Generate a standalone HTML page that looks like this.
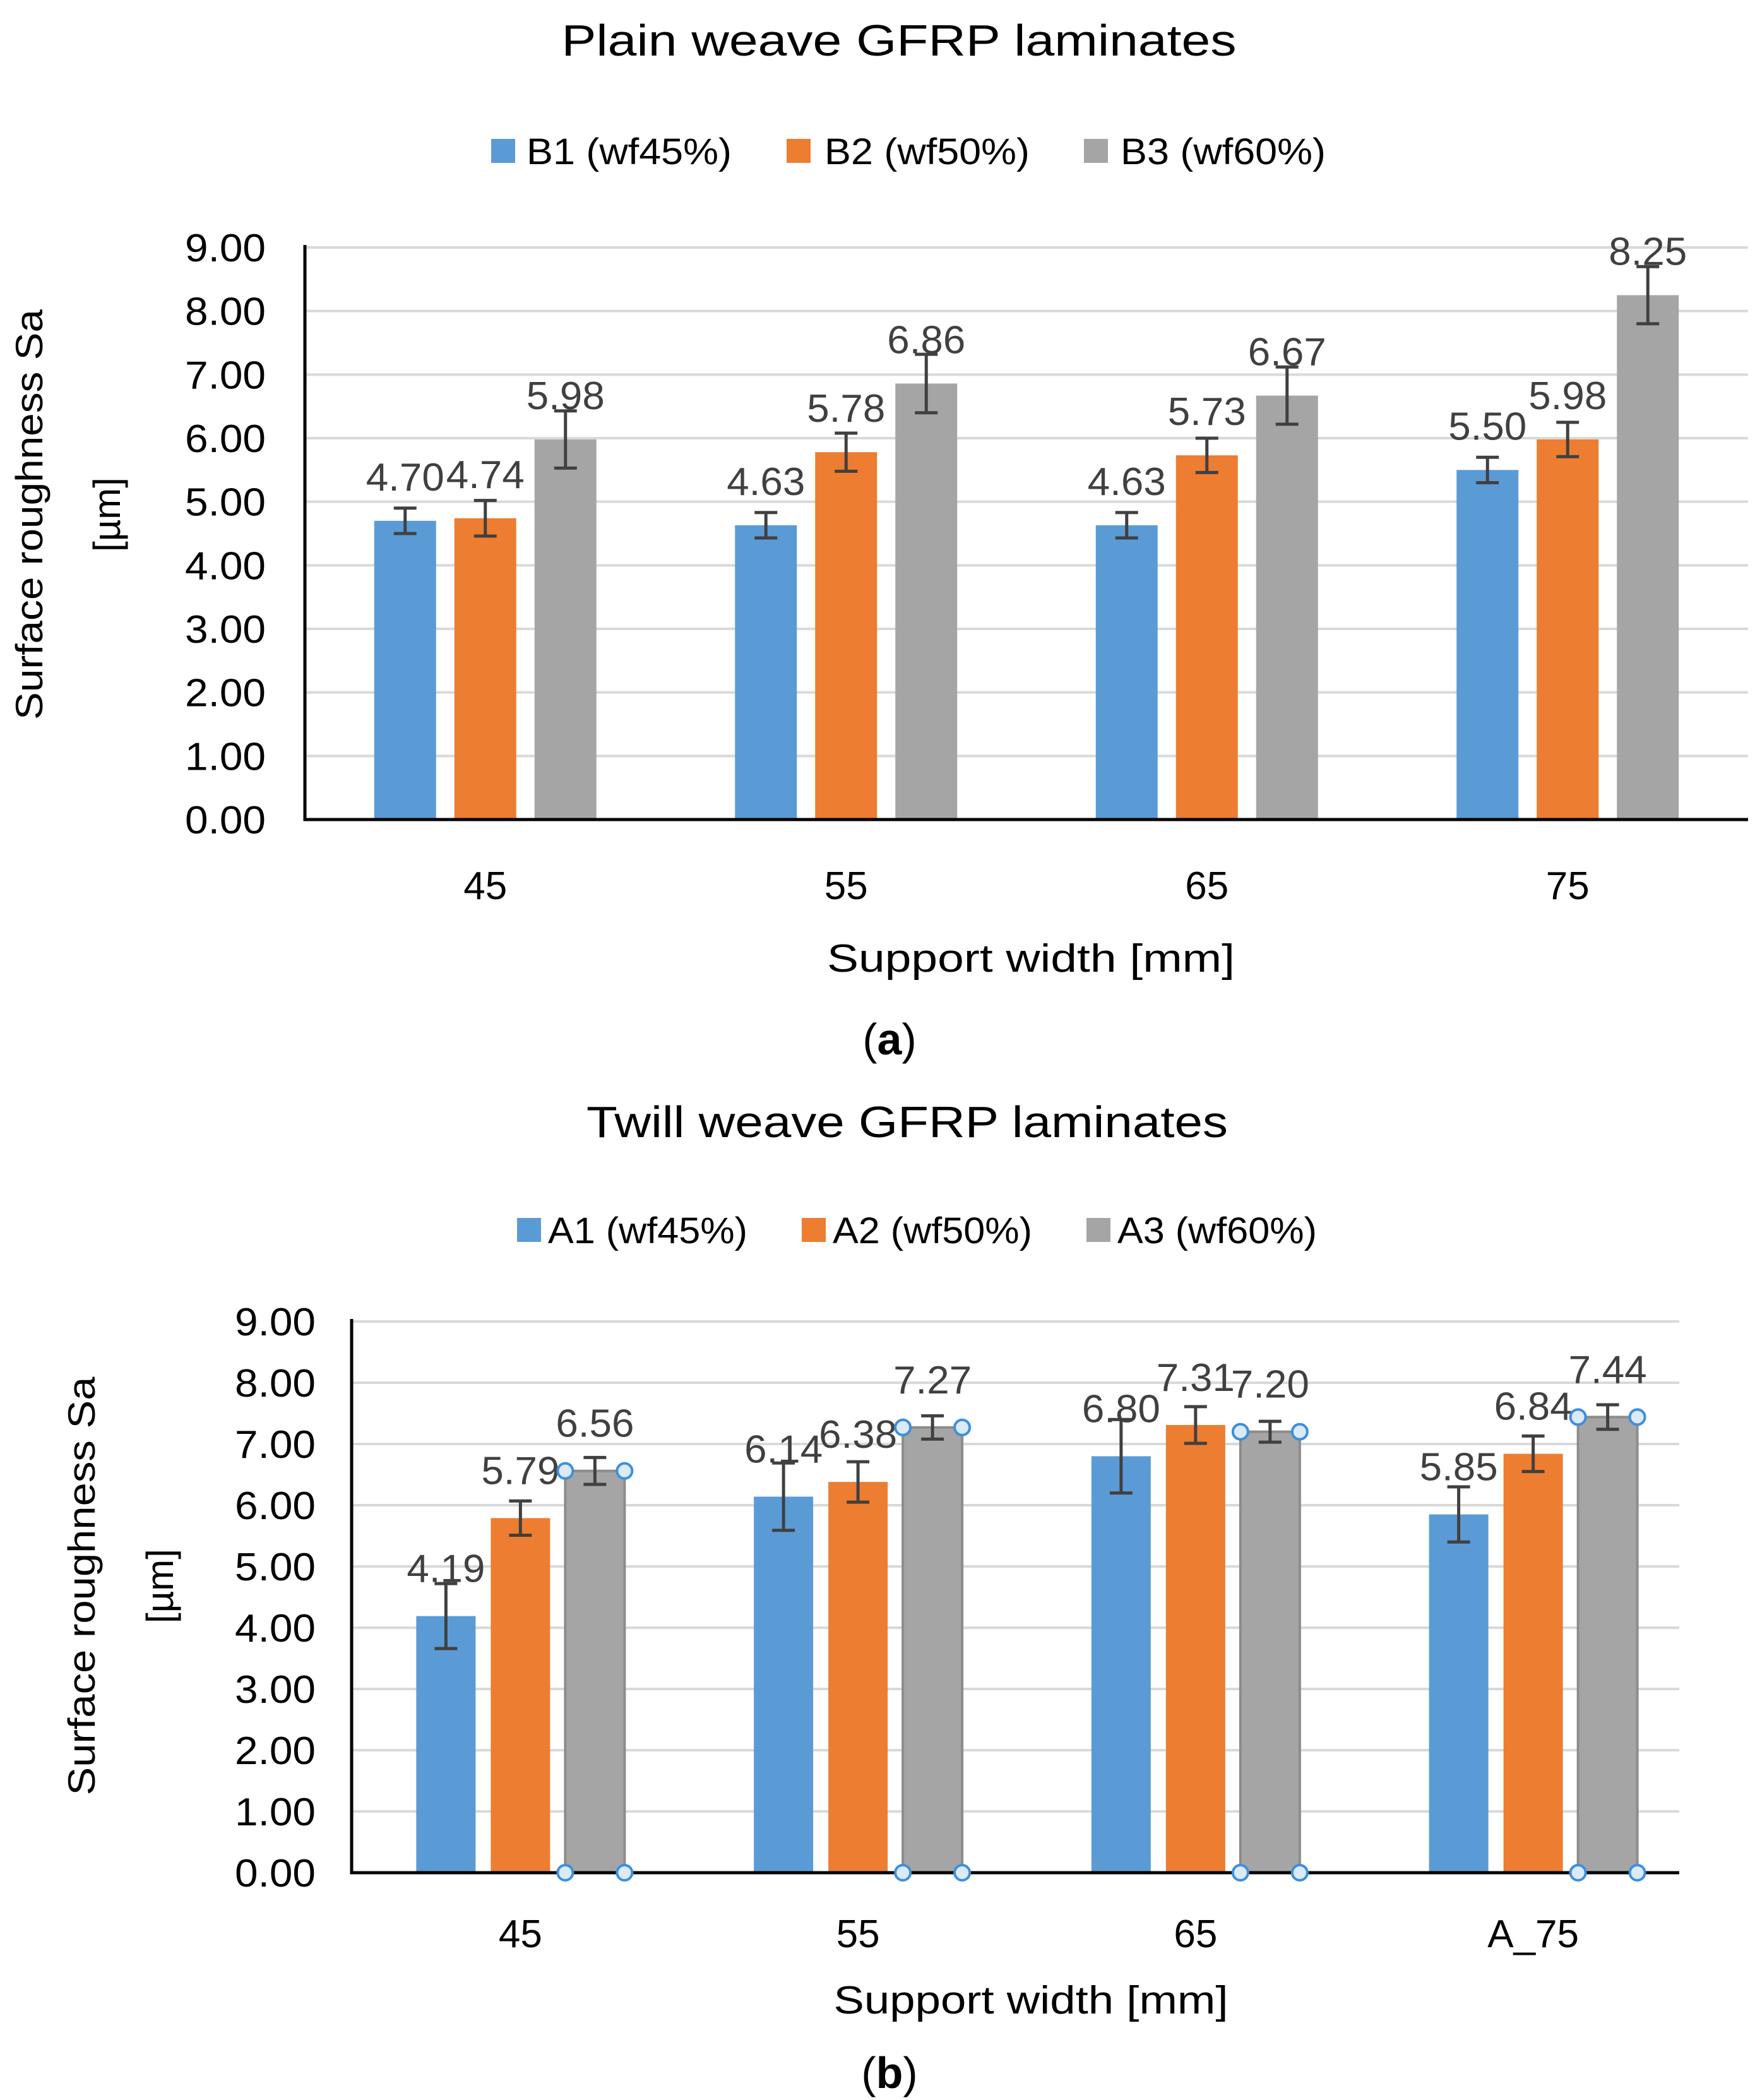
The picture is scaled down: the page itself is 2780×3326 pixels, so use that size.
<!DOCTYPE html>
<html><head><meta charset="utf-8"><style>
html,body{margin:0;padding:0;background:#fff;}
svg{display:block;}
text{font-family:"Liberation Sans",sans-serif;}
</style></head><body>
<svg id="fig" width="2780" height="3326" viewBox="0 0 2780 3326" xmlns="http://www.w3.org/2000/svg">
<rect width="2780" height="3326" fill="#fff"/>
<g id="chartA"></g>
<g id="chartB"></g>
</svg>
<script>
const categoriesA = ["45","55","65","75"];
const seriesNamesA = ["B1 (wf45%)","B2 (wf50%)","B3 (wf60%)"];
const valuesA_B1 = [4.70,4.63,4.63,5.50];
const valuesA_B2 = [4.74,5.78,5.73,5.98];
const valuesA_B3 = [5.98,6.86,6.67,8.25];
const errA_B1 = [0.20,0.20,0.20,0.20];
const errA_B2 = [0.28,0.30,0.27,0.27];
const errA_B3 = [0.45,0.46,0.45,0.45];
const labelsA_B1 = ["4.70","4.63","4.63","5.50"];
const labelsA_B2 = ["4.74","5.78","5.73","5.98"];
const labelsA_B3 = ["5.98","6.86","6.67","8.25"];

const categoriesB = ["45","55","65","A_75"];
const seriesNamesB = ["A1 (wf45%)","A2 (wf50%)","A3 (wf60%)"];
const valuesB_A1 = [4.19,6.14,6.80,5.85];
const valuesB_A2 = [5.79,6.38,7.31,6.84];
const valuesB_A3 = [6.56,7.27,7.20,7.44];
const errB_A1 = [0.53,0.55,0.60,0.45];
const errB_A2 = [0.28,0.33,0.30,0.29];
const errB_A3 = [0.22,0.19,0.17,0.20];
const labelsB_A1 = ["4.19","6.14","6.80","5.85"];
const labelsB_A2 = ["5.79","6.38","7.31","6.84"];
const labelsB_A3 = ["6.56","7.27","7.20","7.44"];

const yTicks = [0,1,2,3,4,5,6,7,8,9];
const yTickLabels = ["0.00","1.00","2.00","3.00","4.00","5.00","6.00","7.00","8.00","9.00"];
const colors = ["#5b9bd5","#ed7d31","#a5a5a5"];
const NS = "http://www.w3.org/2000/svg";

function el(parent, tag, attrs, txt){
  const e = document.createElementNS(NS, tag);
  for (const k in attrs) e.setAttribute(k, attrs[k]);
  if (txt !== undefined) e.textContent = txt;
  parent.appendChild(e);
  return e;
}

function drawChart(g, cfg){
  const yScale = v => cfg.y0 - v * (cfg.y0 - cfg.y9) / 9;
  const catW = (cfg.xEnd - cfg.x0) / cfg.cats.length;
  const xCenter = i => cfg.x0 + catW * (i + 0.5);

  const title = el(g,"text",{x:cfg.titleX,y:cfg.titleY,"text-anchor":"middle","font-size":70,fill:"#000",textLength:cfg.titleLen,lengthAdjust:"spacingAndGlyphs"},cfg.title);
  
  

  cfg.series.forEach((s,k)=>{
    const lg = el(g,"g",{});
    
    
    el(lg,"rect",{x:cfg.legSq[k],y:cfg.legY-19,width:38,height:38,fill:colors[k]});
    el(lg,"text",{x:cfg.legTx[k],y:cfg.legY+21,"font-size":58,fill:"#000",textLength:cfg.legLen,lengthAdjust:"spacingAndGlyphs"},s);
  });

  yTicks.forEach((t,i)=>{
    const y = yScale(t);
    if (t>0){
      const gl = el(g,"line",{x1:cfg.x0,x2:cfg.gridEnd,y1:y,y2:y,stroke:"#d9d9d9","stroke-width":4});
      
      
    }
    const tl = el(g,"text",{x:cfg.tickX,y:y+22,"text-anchor":"end","font-size":62,fill:"#000",textLength:128,lengthAdjust:"spacingAndGlyphs"},yTickLabels[i]);
    
    
  });

  const pitch = cfg.barW + cfg.gap;
  cfg.cats.forEach((c,i)=>{
    const cx = xCenter(i);
    for (let k=0;k<3;k++){
      const v = cfg.vals[k][i], e = cfg.errs[k][i];
      const bx = cx + (k-1)*pitch - cfg.barW/2;
      const top = yScale(v);
      const r = el(g,"rect",{x:bx,y:top,width:cfg.barW,height:yScale(0)-top,fill:colors[k]});
      if (cfg.selected && k===2){ r.setAttribute("stroke","#8c8c8c"); r.setAttribute("stroke-width",4); }
      
      
      const bcx = bx + cfg.barW/2;
      const eg = el(g,"g",{stroke:"#404040","stroke-width":5});
      
      
      el(eg,"line",{x1:bcx,x2:bcx,y1:yScale(v+e),y2:yScale(v-e)});
      el(eg,"line",{x1:bcx-18,x2:bcx+18,y1:yScale(v+e),y2:yScale(v+e)});
      el(eg,"line",{x1:bcx-18,x2:bcx+18,y1:yScale(v-e),y2:yScale(v-e)});
      const dl = el(g,"text",{x:bcx,y:top-cfg.lblOff+22,"text-anchor":"middle","font-size":cfg.lblSize,fill:"#404040",textLength:cfg.lblLen,lengthAdjust:"spacingAndGlyphs"},cfg.labels[k][i]);
      
      
      if (cfg.selected && k===2){
        [[bx,top],[bx+cfg.barW,top]].forEach(p=>{
          const h = el(g,"circle",{cx:p[0],cy:p[1],r:12,fill:"#dbeaf8",stroke:"#3d8fdb","stroke-width":4});
          
          
        });
      }
    }
    const xl = el(g,"text",{x:cx,y:cfg.catY+22,"text-anchor":"middle","font-size":62,fill:"#000"},c);
    
    
  });

  const ax = el(g,"path",{d:`M${cfg.x0} ${cfg.y9-4} V${cfg.y0} H${cfg.gridEnd}`,fill:"none",stroke:"#000","stroke-width":5});
  
  
  if (cfg.selected){
    cfg.cats.forEach((c,i)=>{
      const bx = xCenter(i)+pitch-cfg.barW/2;
      [bx,bx+cfg.barW].forEach(px=>{
        const h = el(g,"circle",{cx:px,cy:yScale(0),r:12,fill:"#dbeaf8",stroke:"#3d8fdb","stroke-width":4});
        
        
      });
    });
  }

  const yt = el(g,"text",{transform:`translate(${cfg.ytX},${cfg.ytY}) rotate(-90)`,"text-anchor":"middle","font-size":60,fill:"#000",textLength:cfg.ytLen,lengthAdjust:"spacingAndGlyphs"},"Surface roughness Sa");
  
  
  const yu = el(g,"text",{transform:`translate(${cfg.yuX},${cfg.ytY}) rotate(-90)`,"text-anchor":"middle","font-size":60,fill:"#000"},"[µm]");
  
  
  const xt = el(g,"text",{x:cfg.xtX,y:cfg.xtY+21,"text-anchor":"middle","font-size":62,fill:"#000",textLength:cfg.xtLen,lengthAdjust:"spacingAndGlyphs"},"Support width [mm]");
  
  
  const pl = el(g,"text",{x:cfg.panX,y:cfg.panY+24,"text-anchor":"middle","font-size":70,fill:"#000","font-family":"Liberation Serif, serif"});
  
  
  el(pl,"tspan",{},"(");
  el(pl,"tspan",{"font-weight":"bold"},cfg.panel);
  el(pl,"tspan",{},")");
}

drawChart(document.getElementById("chartA"),{
  title:"Plain weave GFRP laminates",titleX:1424,titleY:88,titleLen:1069,
  series:seriesNamesA,legY:239,legSq:[778,1246,1717],legTx:[834,1306,1775],legLen:325,
  x0:483,xEnd:2769,gridEnd:2769,y0:1298,y9:392,tickX:421,
  cats:categoriesA,vals:[valuesA_B1,valuesA_B2,valuesA_B3],errs:[errA_B1,errA_B2,errA_B3],
  labels:[labelsA_B1,labelsA_B2,labelsA_B3],barW:98,gap:29,lblOff:70,lblSize:62,lblLen:124,
  catY:1402,ytX:67,ytY:815,ytLen:650,yuX:190,xtX:1633,xtY:1518,xtLen:646,
  panX:1409,panY:1646,panel:"a",selected:false
});
drawChart(document.getElementById("chartB"),{
  title:"Twill weave GFRP laminates",titleX:1437,titleY:1801,titleLen:1016,
  series:seriesNamesB,legY:1948,legSq:[819,1270,1721],legTx:[868,1319,1770],legLen:316,
  x0:557,xEnd:2696,gridEnd:2660,y0:2966,y9:2093,tickX:500,
  cats:categoriesB,vals:[valuesB_A1,valuesB_A2,valuesB_A3],errs:[errB_A1,errB_A2,errB_A3],
  labels:[labelsB_A1,labelsB_A2,labelsB_A3],barW:94,gap:24,lblOff:76,lblSize:62,lblLen:124,
  catY:3062,ytX:150,ytY:2512,ytLen:663,yuX:274,xtX:1633,xtY:3168,xtLen:625,
  panX:1409,panY:3283,panel:"b",selected:true
});
</script>
</body></html>
